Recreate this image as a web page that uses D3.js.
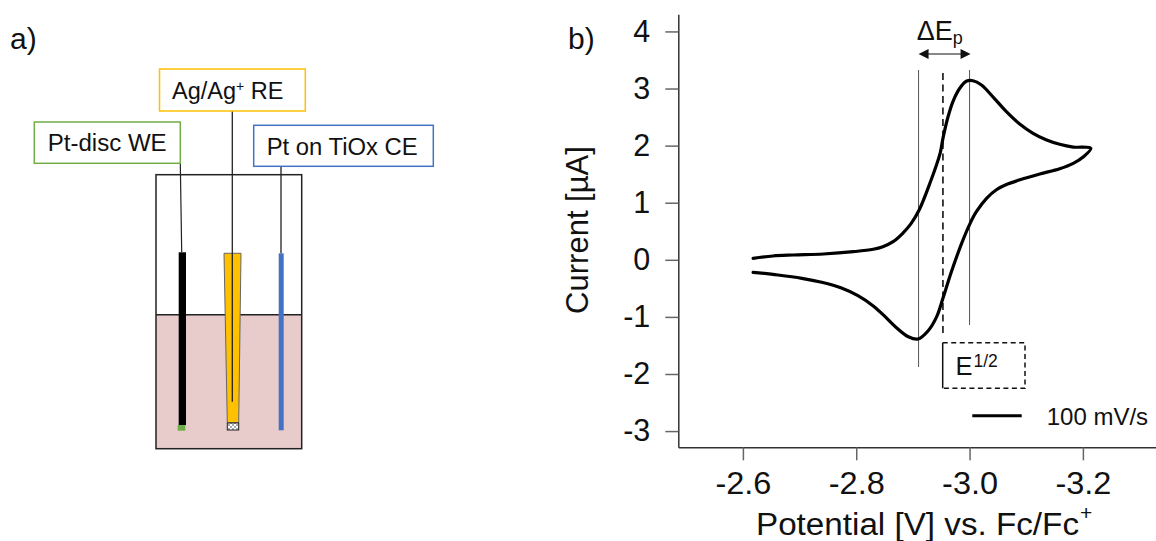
<!DOCTYPE html>
<html lang="en">
<head>
    <meta charset="UTF-8">
    <title>Cyclic voltammogram</title>
    <script src="https://d3js.org/d3.v7.min.js"></script>
    <style>
        html, body { margin: 0; padding: 0; background: #fff; overflow: hidden; }
        text { font-family: "Liberation Sans", Arial, sans-serif; fill: #111; }
    </style>
</head>
<body>
    <div id="chart"></div>
    <script>
        // forward sweep, then the return sweep
        const potential = [
            -2.618, -2.653, -2.689, -2.742, -2.795, -2.830, -2.847, -2.865, -2.882, -2.897, -2.911, -2.930,
            -2.948, -2.953, -2.962, -2.971, -2.983, -2.995, -3.006, -3.021, -3.042, -3.065,
            -3.089, -3.112, -3.136, -3.159, -3.183, -3.214,
            -3.201, -3.183, -3.159, -3.124, -3.089, -3.065, -3.048, -3.030, -3.012, -3.001,
            -2.986, -2.971, -2.965, -2.953, -2.942, -2.927, -2.909, -2.892, -2.871, -2.851,
            -2.830, -2.803, -2.774, -2.739, -2.704, -2.662, -2.618
        ];
        const current = [
            0.026, 0.067, 0.084, 0.102, 0.142, 0.184, 0.229, 0.317, 0.464, 0.639, 0.872, 1.340,
            1.865, 2.128, 2.506, 2.781, 3.009, 3.131, 3.137, 3.061, 2.846, 2.594,
            2.373, 2.215, 2.098, 2.023, 1.975, 1.953,
            1.806, 1.690, 1.595, 1.503, 1.401, 1.319, 1.231, 1.077, 0.842, 0.639,
            0.289, -0.121, -0.296, -0.674, -0.996, -1.242, -1.387, -1.347, -1.189, -0.996,
            -0.809, -0.629, -0.494, -0.394, -0.324, -0.266, -0.219
        ];
        const xTicks = [-2.6, -2.8, -3.0, -3.2];
        const xTickLabels = ["-2.6", "-2.8", "-3.0", "-3.2"];
        const yTicks = [4, 3, 2, 1, 0, -1, -2, -3];
        const yTickLabels = ["4", "3", "2", "1", "0", "-1", "-2", "-3"];
        const peakCathodic = -2.91;
        const peakAnodic = -3.0;
        const halfWave = -2.953;

        const width = 1156;
        const height = 541;

        const svg = d3.select("#chart")
            .append("svg")
            .attr("width", width)
            .attr("height", height);

        // ---------- panel b ----------
        const xScale = d3.scaleLinear().domain([-2.486, -3.329]).range([678.3, 1156]);
        const yScale = d3.scaleLinear().domain([-3.284, 4.3]).range([447.3, 14.3]);

        const xAxis = svg.append("g")
            .attr("transform", "translate(0,447.3)")
            .call(d3.axisBottom(xScale)
                .tickValues(xTicks)
                .tickFormat((d, i) => xTickLabels[i])
                .tickSizeInner(13).tickSizeOuter(0).tickPadding(12));

        const yAxis = svg.append("g")
            .attr("transform", "translate(678.3,0)")
            .call(d3.axisLeft(yScale)
                .tickValues(yTicks)
                .tickFormat((d, i) => yTickLabels[i])
                .tickSizeInner(13).tickSizeOuter(0).tickPadding(15));

        [xAxis, yAxis].forEach(axis => {
            axis.select(".domain").attr("stroke", "#333").attr("stroke-width", 1.5);
            axis.selectAll(".tick line").attr("stroke", "#666").attr("stroke-width", 1.5);
            axis.selectAll(".tick text").attr("font-size", 30.5).attr("font-family", null);
        });
        // the x labels are a bit wider in the original
        xAxis.selectAll(".tick text")
            .attr("textLength", 56)
            .attr("lengthAdjust", "spacingAndGlyphs");

        // peak position lines
        svg.append("line")
            .attr("x1", xScale(peakCathodic)).attr("x2", xScale(peakCathodic))
            .attr("y1", 70).attr("y2", 367)
            .attr("stroke", "#555").attr("stroke-width", 1);
        svg.append("line")
            .attr("x1", xScale(peakAnodic)).attr("x2", xScale(peakAnodic))
            .attr("y1", 70).attr("y2", 325)
            .attr("stroke", "#555").attr("stroke-width", 1);
        svg.append("line")
            .attr("x1", xScale(halfWave)).attr("x2", xScale(halfWave))
            .attr("y1", 73).attr("y2", 337)
            .attr("stroke", "#111").attr("stroke-width", 1.6)
            .attr("stroke-dasharray", "7,4.5");

        // the CV curve
        const line = d3.line()
            .x(i => xScale(potential[i]))
            .y(i => yScale(current[i]))
            .curve(d3.curveCatmullRom.alpha(0.5));

        svg.append("path")
            .attr("d", line(d3.range(potential.length)))
            .attr("fill", "none")
            .attr("stroke", "#000")
            .attr("stroke-width", 3.2)
            .attr("stroke-linejoin", "round")
            .attr("stroke-linecap", "round");

        // delta Ep arrow
        svg.append("line")
            .attr("x1", xScale(peakCathodic) + 8).attr("x2", xScale(peakAnodic) - 8)
            .attr("y1", 54).attr("y2", 54)
            .attr("stroke", "#111").attr("stroke-width", 1.2);
        const ax1 = xScale(peakCathodic);
        const ax2 = xScale(peakAnodic) + 1;
        svg.append("path")
            .attr("d", `M${ax1},54L${ax1 + 10},49L${ax1 + 10},59Z M${ax2},54L${ax2 - 10},49L${ax2 - 10},59Z`)
            .attr("fill", "#111");

        const dE = svg.append("text").attr("x", 916.7).attr("y", 40).attr("font-size", 27);
        dE.append("tspan").text("\u0394E");
        dE.append("tspan").attr("font-size", 18).attr("dy", 4).text("p");

        // E 1/2 box
        svg.append("path")
            .attr("d", "M942.7,342.7H1025V388.3H942.7")
            .attr("fill", "none")
            .attr("stroke", "#111").attr("stroke-width", 1.5)
            .attr("stroke-dasharray", "5,3.5");
        svg.append("line")
            .attr("x1", 942.7).attr("x2", 942.7)
            .attr("y1", 342.7).attr("y2", 388.3)
            .attr("stroke", "#111").attr("stroke-width", 1.5);
        const eHalf = svg.append("text").attr("x", 955.5).attr("y", 375).attr("font-size", 25.5);
        eHalf.append("tspan").text("E");
        eHalf.append("tspan").attr("font-size", 17.5).attr("dy", -8).attr("dx", 1).text("1/2");

        // legend
        svg.append("line")
            .attr("x1", 972.3).attr("x2", 1021.7)
            .attr("y1", 415.7).attr("y2", 415.7)
            .attr("stroke", "#000").attr("stroke-width", 3);
        svg.append("text").attr("x", 1046.7).attr("y", 425).attr("font-size", 24).text("100 mV/s");

        // axis titles
        svg.append("text")
            .attr("transform", "translate(588,230) rotate(-90)")
            .attr("text-anchor", "middle")
            .attr("font-size", 31)
            .text("Current [\u00b5A]");

        svg.append("text")
            .attr("x", 756).attr("y", 535)
            .attr("font-size", 31)
            .attr("textLength", 323)
            .attr("lengthAdjust", "spacingAndGlyphs")
            .text("Potential [V] vs. Fc/Fc");
        svg.append("text").attr("x", 1080).attr("y", 520).attr("font-size", 21).text("+");

        svg.append("text").attr("x", 568).attr("y", 49).attr("font-size", 30).text("b)");

        // ---------- panel a, cell sketch ----------
        svg.append("text").attr("x", 10).attr("y", 49).attr("font-size", 30).text("a)");

        const defs = svg.append("defs");
        const frit = defs.append("pattern")
            .attr("id", "frit")
            .attr("width", 4).attr("height", 4)
            .attr("patternUnits", "userSpaceOnUse");
        frit.append("rect").attr("width", 4).attr("height", 4).attr("fill", "#fff");
        frit.append("rect").attr("width", 2).attr("height", 2).attr("fill", "#aaa");
        frit.append("rect").attr("x", 2).attr("y", 2).attr("width", 2).attr("height", 2).attr("fill", "#aaa");

        // electrolyte and beaker
        svg.append("rect")
            .attr("x", 156).attr("y", 314.7).attr("width", 145.7).attr("height", 134)
            .attr("fill", "#e8cbcb");
        svg.append("line")
            .attr("x1", 156).attr("x2", 301.7).attr("y1", 314.7).attr("y2", 314.7)
            .attr("stroke", "#222").attr("stroke-width", 1.5);
        svg.append("rect")
            .attr("x", 156).attr("y", 174.7).attr("width", 145.7).attr("height", 274)
            .attr("fill", "none").attr("stroke", "#222").attr("stroke-width", 1.5);

        // working electrode
        svg.append("line")
            .attr("x1", 180.3).attr("x2", 181.7).attr("y1", 163.3).attr("y2", 252.3)
            .attr("stroke", "#222").attr("stroke-width", 1.2);
        svg.append("rect")
            .attr("x", 178.7).attr("y", 252.3).attr("width", 7.3).attr("height", 172.7)
            .attr("fill", "#000");
        svg.append("rect")
            .attr("x", 177.7).attr("y", 425).attr("width", 7.6).attr("height", 5.7)
            .attr("fill", "#70ad47");

        // reference electrode
        svg.append("path")
            .attr("d", "M224,253.3H241L238.7,422.7H227.3Z")
            .attr("fill", "#ffc000").attr("stroke", "#666").attr("stroke-width", 1);
        svg.append("rect")
            .attr("x", 227.3).attr("y", 423).attr("width", 11.4).attr("height", 7)
            .attr("fill", "url(#frit)").attr("stroke", "#222").attr("stroke-width", 1);
        svg.append("line")
            .attr("x1", 232.3).attr("x2", 232.3).attr("y1", 111).attr("y2", 401.7)
            .attr("stroke", "#222").attr("stroke-width", 1.3);

        // counter electrode
        svg.append("line")
            .attr("x1", 281).attr("x2", 281).attr("y1", 166).attr("y2", 253.3)
            .attr("stroke", "#222").attr("stroke-width", 1.3);
        svg.append("rect")
            .attr("x", 278.7).attr("y", 253.3).attr("width", 5).attr("height", 177)
            .attr("fill", "#4472c4");

        // label boxes
        svg.append("rect")
            .attr("x", 159.5).attr("y", 69).attr("width", 145.8).attr("height", 42)
            .attr("fill", "#fff").attr("stroke", "#ffc000").attr("stroke-width", 1.5);
        const reLabel = svg.append("text").attr("x", 172).attr("y", 99).attr("font-size", 23.5);
        reLabel.append("tspan").text("Ag/Ag");
        reLabel.append("tspan").attr("font-size", 14).attr("dy", -8).text("+");
        reLabel.append("tspan").attr("dy", 8).text(" RE");

        svg.append("rect")
            .attr("x", 34.3).attr("y", 122).attr("width", 146).attr("height", 41.3)
            .attr("fill", "#fff").attr("stroke", "#70ad47").attr("stroke-width", 1.5);
        svg.append("text").attr("x", 47.7).attr("y", 151).attr("font-size", 23.5)
            .attr("textLength", 119).attr("lengthAdjust", "spacingAndGlyphs")
            .text("Pt-disc WE");

        svg.append("rect")
            .attr("x", 253.7).attr("y", 125.3).attr("width", 179.6).attr("height", 41)
            .attr("fill", "#fff").attr("stroke", "#4472c4").attr("stroke-width", 1.5);
        svg.append("text").attr("x", 266.7).attr("y", 155).attr("font-size", 23.5)
            .attr("textLength", 151).attr("lengthAdjust", "spacingAndGlyphs")
            .text("Pt on TiOx CE");
    </script>
</body>
</html>
